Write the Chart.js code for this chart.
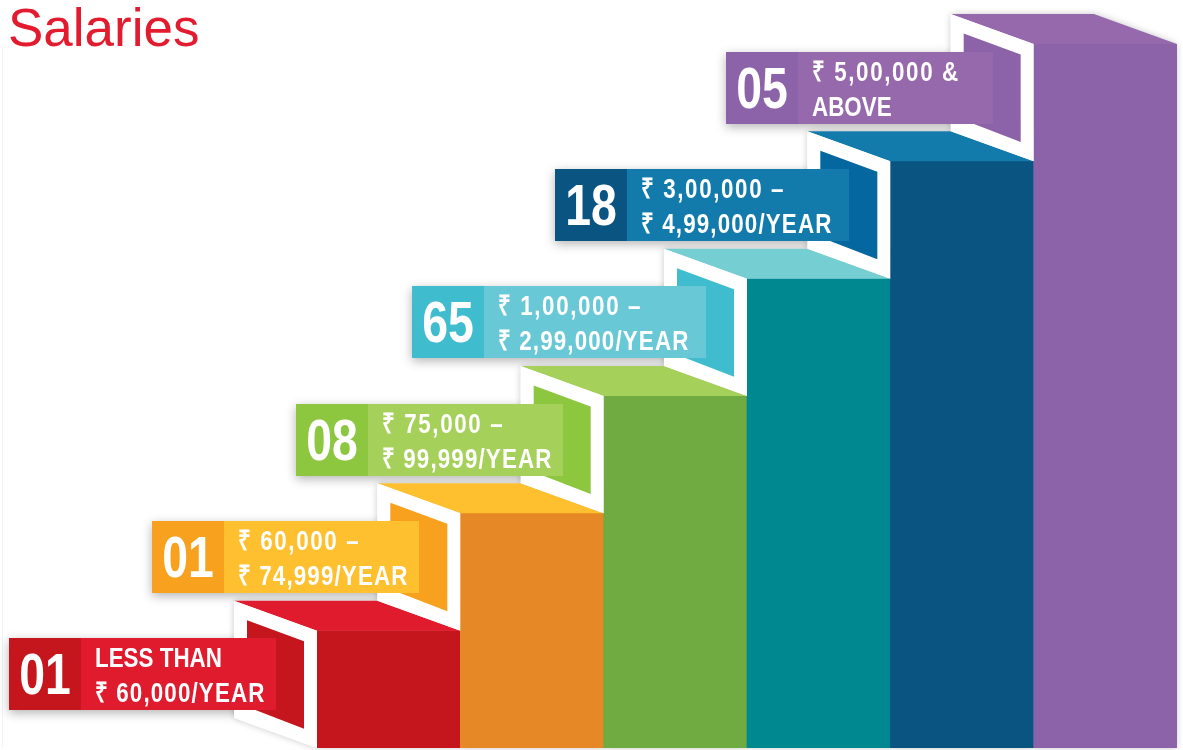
<!DOCTYPE html>
<html>
<head>
<meta charset="utf-8">
<script src="https://cdn.jsdelivr.net/npm/chart.js@4"></script>
<style>html,body{margin:0;padding:0;background:#fff}canvas{display:block}</style>
</head>
<body>
<canvas id="c" width="1183" height="750"></canvas>
<script>
const categories = ['Less than 60,000','60,000-74,999','75,000-99,999','1,00,000-2,99,000','3,00,000-4,99,000','5,00,000 & above'];
const stepLevels = [1,2,3,4,5,6];
const counts = ['01','01','08','65','18','05'];
const rangeLine1 = ['LESS THAN','₹ 60,000 –','₹ 75,000 –','₹ 1,00,000 –','₹ 3,00,000 –','₹ 5,00,000 &'];
const rangeLine2 = ['₹ 60,000/YEAR','₹ 74,999/YEAR','₹ 99,999/YEAR','₹ 2,99,000/YEAR','₹ 4,99,000/YEAR','ABOVE'];

const frontColors = ['#c4161c','#e68825','#70ab42','#008891','#0a5482','#8c62a8'];
const topColors   = ['#e11b2e','#fec02f','#a5d059','#75ced1','#137bab','#9669ac'];
const darkPanel   = ['#c4161c','#f7a11e','#8dc63f','#3fbdcf','#0a5482','#8c62a8'];
const lightPanel  = ['#e11b2e','#fec02f','#a5d059','#68c8d6','#137bab','#9669ac'];
const innerColors = ['#c4161c','#f7a11e','#8dc63f','#3fbdcf','#0567a0','#8c62a8'];

const TEXT_FONT = '"Liberation Sans",sans-serif';
const TEXT_SX = 0.8;
const NUM_SX = 0.8;

function poly(ctx, pts){ ctx.beginPath(); pts.forEach((p,i)=> i?ctx.lineTo(p[0],p[1]):ctx.moveTo(p[0],p[1])); ctx.closePath(); }

function geom(chart,i){
  const bar = chart.getDatasetMeta(0).data[i];
  const L = bar.x - bar.width/2, R = bar.x + bar.width/2, T = bar.y;
  const y = chart.scales.y;
  const H = y.getPixelForValue(0) - y.getPixelForValue(1);
  return {L,R,T,H,
    top:[[L-83,T-30],[L,T],[R,T],[R-83,T-30]],
    frame:[[L-83,T-30],[L,T],[L,T+H],[L-83,T+H-30]],
    inner:[[L-70,T-10.5],[L-13,T+10.5],[L-13,T+98],[L-70,T+76]]};
}
function spacingFor(text){
  if (text.includes('YEAR')) return '1.4px';
  if (/\d/.test(text)) return '2px';
  return '0px';
}
function panelRect(chart,ctx,i){
  const g = geom(chart,i);
  ctx.save();
  ctx.font = 'bold 28px '+TEXT_FONT;
  const widths = [rangeLine1[i],rangeLine2[i]].map(t=>{ctx.letterSpacing=spacingFor(t);return ctx.measureText(t).width*TEXT_SX;});
  ctx.restore();
  const light = Math.max(...widths) > 180 ? 222 : 195;
  const right = Math.round(g.L-41);
  return {x:right-light-72, mid:right-light, right, y:Math.round(g.T+7.6), h:72, light};
}
function squeezed(ctx,text,x,y,sx){
  ctx.save(); ctx.translate(x,y); ctx.scale(sx,1); ctx.fillText(text,0,0); ctx.restore();
}
function rangeText(ctx,text,x,y){
  ctx.letterSpacing=spacingFor(text);
  squeezed(ctx,text,x,y,TEXT_SX);
}

const stairs = {
  id:'stairs',
  beforeDatasetsDraw(chart){
    const ctx = chart.ctx;
    ctx.save();
    ctx.strokeStyle='#f3f3f3'; ctx.lineWidth=1;
    ctx.beginPath(); ctx.moveTo(2.5,45); ctx.lineTo(2.5,748); ctx.stroke();
    ctx.shadowColor='rgba(0,0,0,0.22)'; ctx.shadowBlur=7; ctx.fillStyle='#fff';
    stepLevels.forEach((_,i)=>{
      const g=geom(chart,i);
      poly(ctx,g.top); ctx.fill();
      poly(ctx,g.frame); ctx.fill();
      ctx.fillRect(g.L,g.T,g.R-g.L,chart.chartArea.bottom-g.T);
    });
    ctx.shadowColor='rgba(0,0,0,0.3)'; ctx.shadowBlur=10; ctx.shadowOffsetY=3;
    stepLevels.forEach((_,i)=>{
      const p=panelRect(chart,ctx,i);
      ctx.fillRect(p.x,p.y,p.right-p.x,p.h);
    });
    ctx.restore();
  },
  afterDatasetsDraw(chart){
    const ctx = chart.ctx;
    ctx.save();
    stepLevels.forEach((_,i)=>{
      const g=geom(chart,i);
      ctx.fillStyle=topColors[i]; poly(ctx,g.top); ctx.fill();
      ctx.fillStyle='#fff'; poly(ctx,g.frame); ctx.fill();
      ctx.fillStyle=innerColors[i]; poly(ctx,g.inner); ctx.fill();
    });
    stepLevels.forEach((_,i)=>{
      const p=panelRect(chart,ctx,i);
      ctx.fillStyle=darkPanel[i]; ctx.fillRect(p.x,p.y,72,p.h);
      ctx.fillStyle=lightPanel[i]; ctx.fillRect(p.mid,p.y,p.light,p.h);
      ctx.fillStyle='#fff';
      ctx.textBaseline='alphabetic';
      ctx.textAlign='center'; ctx.letterSpacing='0px';
      ctx.font='bold 58px '+TEXT_FONT;
      squeezed(ctx,counts[i],p.x+36,p.y+56,NUM_SX);
      ctx.textAlign='left';
      ctx.font='bold 28px '+TEXT_FONT;
      rangeText(ctx,rangeLine1[i],p.mid+14,p.y+29);
      rangeText(ctx,rangeLine2[i],p.mid+14,p.y+64);
    });
    ctx.restore();
  }
};

new Chart(document.getElementById('c'),{
  type:'bar',
  data:{labels:categories,datasets:[{data:stepLevels,backgroundColor:frontColors,borderWidth:0,barPercentage:1,categoryPercentage:1}]},
  plugins:[stairs],
  options:{
    responsive:false,animation:false,
    layout:{padding:{left:8,right:6,top:0,bottom:2}},
    plugins:{
      legend:{display:false},tooltip:{enabled:false},
      title:{display:true,text:'Salaries',align:'start',color:'#e31b2f',
        font:{family:'"Liberation Sans",Arial,sans-serif',size:53,weight:'normal',lineHeight:1},
        padding:{top:5,bottom:-14}}
    },
    scales:{
      x:{display:false,grid:{display:false}},
      y:{min:0,max:6,display:true,ticks:{display:false},grid:{display:false},border:{display:false},
         afterFit(s){s.width=309;}}
    }
  }
});
</script>
</body>
</html>
